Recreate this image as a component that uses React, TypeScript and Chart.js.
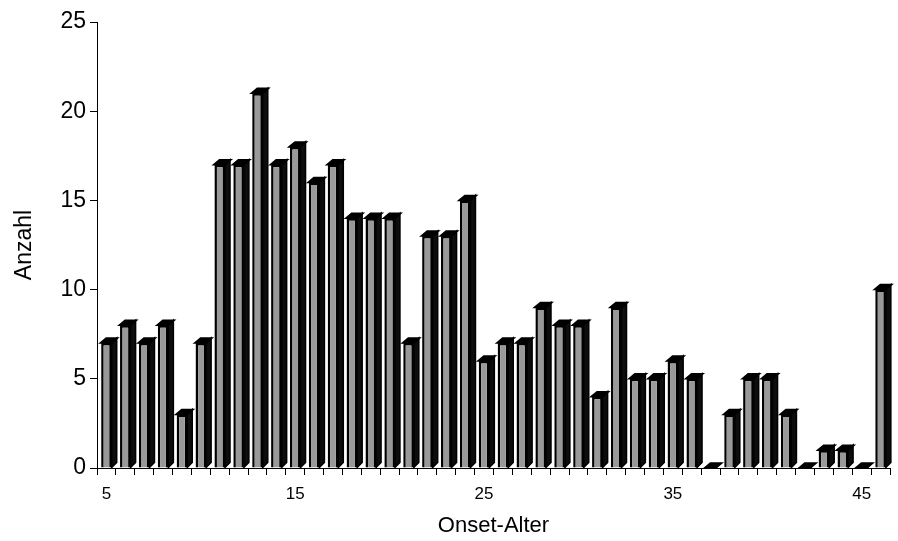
import React, { useEffect, useRef } from "react";
import { Chart, registerables } from "chart.js";

Chart.register(...registerables);

const ages: number[] = [
  5, 6, 7, 8, 9, 10, 11, 12, 13, 14, 15, 16, 17, 18, 19, 20, 21, 22, 23, 24, 25,
  26, 27, 28, 29, 30, 31, 32, 33, 34, 35, 36, 37, 38, 39, 40, 41, 42, 43, 44, 45, 46,
];
const counts: number[] = [
  7, 8, 7, 8, 3, 7, 17, 17, 21, 17, 18, 16, 17, 14, 14, 14, 7, 13, 13, 15, 6,
  7, 7, 9, 8, 8, 4, 9, 5, 5, 6, 5, 0, 3, 5, 5, 3, 0, 1, 1, 0, 10,
];
const labeledAges: number[] = [5, 15, 25, 35, 45];
const yTicks: number[] = [0, 5, 10, 15, 20, 25];

const FONT = "'Liberation Sans', Arial, sans-serif";

const depthPlugin = {
  id: "depth3d",
  beforeDatasetsDraw(chart: any) {
    const ctx = chart.ctx;
    const meta = chart.getDatasetMeta(0);
    const dx = 5;
    const dy = 5;
    ctx.save();
    meta.data.forEach((bar: any) => {
      const { x, y, base, width } = bar.getProps(["x", "y", "base", "width"], true);
      const left = x - width / 2;
      const right = x + width / 2;
      // side face
      ctx.beginPath();
      ctx.moveTo(right, y);
      ctx.lineTo(right + dx, y - dy);
      ctx.lineTo(right + dx, base - dy);
      ctx.lineTo(right, base);
      ctx.closePath();
      ctx.fillStyle = "#0d0d0d";
      ctx.fill();
      ctx.lineWidth = 1.5;
      ctx.strokeStyle = "#000";
      ctx.stroke();
      // top face
      ctx.beginPath();
      ctx.moveTo(left - 1, y);
      ctx.lineTo(left + dx, y - dy);
      ctx.lineTo(right + dx + 1, y - dy);
      ctx.lineTo(right, y);
      ctx.closePath();
      ctx.fillStyle = "#000";
      ctx.fill();
      ctx.stroke();
    });
    ctx.restore();
  },
};

export default function App() {
  const canvasRef = useRef<HTMLCanvasElement | null>(null);

  useEffect(() => {
    if (!canvasRef.current) return;
    const chart = new Chart(canvasRef.current, {
      type: "bar",
      data: {
        labels: ages.map(String),
        datasets: [
          {
            data: counts,
            backgroundColor: "#999999",
            borderColor: "#000000",
            borderWidth: 2.5,
            barPercentage: 0.56,
            categoryPercentage: 1,
          },
        ],
      },
      options: {
        animation: false,
        responsive: true,
        maintainAspectRatio: false,
        layout: { padding: { top: 22, right: 8, left: 0, bottom: 0 } },
        plugins: {
          legend: { display: false },
          tooltip: { enabled: false },
        },
        scales: {
          x: {
            grid: {
              offset: true,
              drawOnChartArea: false,
              drawTicks: true,
              tickLength: 7,
              color: "#000",
            },
            border: { display: true, color: "#000", width: 1 },
            ticks: {
              autoSkip: false,
              maxRotation: 0,
              minRotation: 0,
              padding: 9,
              color: "#000",
              font: { family: FONT, size: 17 },
              callback: (_v: any, i: number) =>
                labeledAges.includes(ages[i]) ? String(ages[i]) : "",
            },
            title: {
              display: true,
              text: "Onset-Alter",
              color: "#000",
              font: { family: FONT, size: 22 },
              padding: { top: 0, bottom: 2 },
            },
            afterFit: (scale: any) => {
              scale.height = 73;
            },
          },
          y: {
            min: 0,
            max: 25,
            afterBuildTicks: (scale: any) => {
              scale.ticks = yTicks.map((v) => ({ value: v }));
            },
            grid: {
              drawOnChartArea: false,
              drawTicks: true,
              tickLength: 7,
              color: "#000",
            },
            border: { display: true, color: "#000", width: 1 },
            ticks: {
              padding: 4,
              color: "#000",
              font: { family: FONT, size: 23 },
            },
            title: {
              display: true,
              text: "Anzahl",
              color: "#000",
              font: { family: FONT, size: 23 },
              padding: { top: 11, bottom: 0 },
            },
            afterFit: (scale: any) => {
              scale.width = 97;
            },
          },
        },
      },
      plugins: [depthPlugin],
    });
    return () => chart.destroy();
  }, []);

  return (
    <div style={{ position: "absolute", left: 0, top: 0, width: 898, height: 541, background: "#fff" }}>
      <canvas ref={canvasRef} />
    </div>
  );
}
